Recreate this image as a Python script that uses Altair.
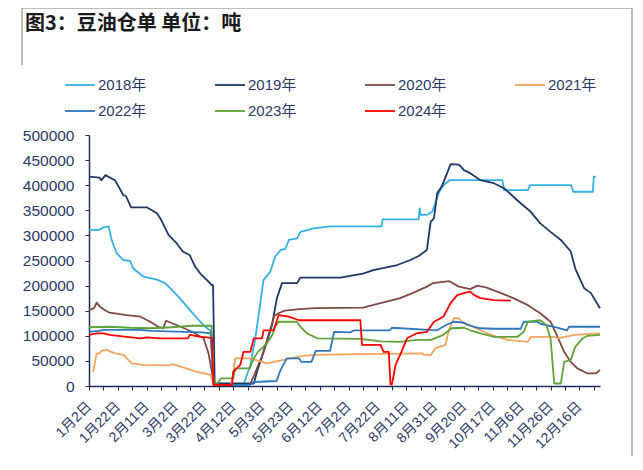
import json
import altair as alt
import pandas as pd

years = ["2018年", "2019年", "2020年", "2021年", "2022年", "2023年", "2024年"]
colors = ["#35b0e8", "#1f3868", "#7f4b43", "#f4a45c", "#2e78bd", "#5fa33a", "#ff0000"]
widths = [1.8, 1.8, 1.8, 1.8, 1.8, 1.8, 3.4]

x_labels = ["1月2日", "1月22日", "2月11日", "3月2日", "3月22日", "4月12日", "5月3日",
            "5月23日", "6月12日", "7月2日", "7月22日", "8月11日", "8月31日", "9月20日",
            "10月17日", "11月6日", "11月26日", "12月16日"]

t_2018 = [0, 5, 7, 9.5, 11, 13.5, 16.7, 20, 21.5, 26.4, 33, 37, 39.4, 44, 49, 54, 56.4, 59, 60.5, 62,
          75, 78.3, 80.7, 83, 84.7, 88, 90.4, 93, 95.3, 97, 101, 102.6, 109, 117, 142, 142.5, 160, 160.5,
          161, 164, 166.6, 170, 172, 175, 200.6, 201.5, 213, 214, 234, 235, 244.5, 245, 246]
v_2018 = [311000, 311000, 316000, 318000, 291000, 264000, 251000, 249000, 234000, 218000, 212000,
          205000, 195000, 175000, 151000, 128000, 118000, 110000, 5000, 2000, 2000, 42000, 95000,
          161000, 211000, 228000, 258000, 271000, 273000, 291000, 294000, 307000, 314000, 318000,
          318000, 332000, 332000, 354000, 341000, 341000, 347000, 387000, 400000, 410000, 410000,
          390000, 390000, 400000, 400000, 387000, 387000, 417000, 417000]

t_2019 = [0, 5, 6, 8, 12.6, 16.7, 18, 20.4, 28, 33, 35, 38.6, 42.6, 45.5, 48.8, 51.5, 54, 58, 59.6, 60.2,
          61, 80, 81.5, 86.4, 88.8, 91.2, 93.7, 101, 102.6, 122, 133, 138, 149.6, 156, 160, 164, 165.8,
          167.4, 169, 171.5, 175.5, 179.5, 182, 185, 190, 196.5, 201.4, 206, 209.5, 214.4, 219, 224,
          229, 233.8, 236, 240.3, 243.6, 248]
v_2019 = [417000, 415000, 410000, 420000, 410000, 380000, 378000, 356000, 356000, 344000, 331000,
          301000, 284000, 268000, 261000, 238000, 224000, 208000, 201000, 201000, 5000, 5000, 28000,
          88000, 121000, 175000, 205000, 205000, 216000, 216000, 224000, 231000, 241000, 251000,
          259000, 271000, 327000, 334000, 384000, 400000, 442000, 441000, 430000, 424000, 410000,
          404000, 394000, 377000, 364000, 347000, 324000, 307000, 291000, 268000, 234000, 195000,
          185000, 155000]

t_2020 = [0, 2.5, 3.7, 5.3, 7.8, 10, 18.3, 25, 29.7, 33.7, 36, 37.4, 41, 45, 50, 55.6, 58, 60.4, 61.5,
          78, 80, 84, 87, 90, 92, 95, 102, 110, 133, 141.5, 151, 157, 164, 167, 174.7, 179.5, 185,
          188.5, 193, 200, 206, 213, 219, 224, 227, 230.6, 233.8, 237, 242, 246, 248]
v_2020 = [151000, 155000, 166000, 158000, 151000, 146000, 141000, 138000, 128000, 118000, 115000,
          130000, 124000, 117000, 108000, 95000, 65000, 12000, 2000, 2000, 20000, 60000, 100000,
          140000, 145000, 150000, 153000, 155000, 156000, 165000, 175000, 185000, 198000, 205000,
          209000, 198000, 193000, 200000, 196000, 185000, 175000, 161000, 145000, 128000, 102000,
          68000, 48000, 35000, 25000, 25000, 32000]

t_2021 = [2, 3.7, 5.3, 6, 8.6, 12.6, 16.7, 20.7, 26.4, 37.8, 41, 45, 52.4, 59, 60.5, 62, 69, 71, 78,
          80, 86.4, 97.7, 104, 110, 122, 162, 162.5, 166, 168, 173, 174.7, 177, 179.5, 181, 183.6,
          185, 190, 195, 203, 213, 214.4, 225.8, 227.4, 235.5, 248]
v_2021 = [28000, 65000, 65000, 70000, 72000, 65000, 62000, 45000, 42000, 41000, 43000, 38000,
          28000, 22000, 3000, 2000, 2000, 55000, 55000, 53000, 45000, 55000, 60000, 62000, 63000,
          65000, 62000, 62000, 75000, 82000, 112000, 135000, 135000, 128000, 121000, 121000,
          111000, 102000, 92000, 88000, 98000, 98000, 95000, 102000, 105000]

t_2022 = [0, 5, 7, 25, 30, 55, 59, 60.5, 78, 80, 91, 93, 96, 102, 103, 108, 110, 117, 119, 127,
          128.5, 146, 147, 169, 173, 177, 182, 185, 190, 196.6, 209.5, 211, 217.6, 219, 225.8, 232,
          233, 248]
v_2022 = [108000, 110000, 112000, 112000, 110000, 107000, 105000, 2000, 2000, 8000, 10000, 32000,
          55000, 55000, 48000, 48000, 70000, 70000, 108000, 107000, 111000, 111000, 116000, 111000,
          121000, 128000, 126000, 120000, 115000, 114000, 114000, 128000, 128000, 124000, 118000,
          111000, 118000, 118000]

t_2023 = [0, 10, 20, 30, 40, 50, 59.5, 60.5, 62, 64, 70, 71, 78, 80, 82, 86.4, 89, 90.4, 92, 101,
          102.6, 105.8, 110.7, 131.7, 141.5, 151, 159, 166, 172, 176, 182, 185, 190, 196.6, 208, 211,
          213, 219, 222, 224, 225.8, 229, 230.6, 233.8, 236, 239.5, 242, 248]
v_2023 = [117000, 118000, 116000, 115000, 117000, 120000, 120000, 3000, 3000, 15000, 15000, 35000,
          35000, 55000, 68000, 85000, 102000, 118000, 128000, 128000, 118000, 105000, 95000, 94000,
          89000, 88000, 92000, 92000, 102000, 115000, 116000, 111000, 105000, 98000, 98000, 108000,
          128000, 131000, 121000, 95000, 5000, 5000, 48000, 52000, 78000, 95000, 100000, 102000]

t_2024 = [0, 3.7, 7, 10, 18.3, 25, 28, 34.5, 48, 49, 54, 59.6, 60.4, 69.4, 70, 73.4, 75, 78.3, 80,
          84, 84.7, 89.6, 92, 97, 102, 131.7, 132.5, 141.5, 143, 145.5, 146.3, 147, 148.8, 151,
          154.4, 159, 164, 167.4, 172, 175.5, 178.7, 182, 185, 187, 190, 196.6, 204.7]
v_2024 = [102000, 105000, 105000, 102000, 98000, 95000, 97000, 95000, 95000, 102000, 98000, 96000,
          2000, 2000, 28000, 42000, 68000, 68000, 95000, 95000, 111000, 111000, 141000, 138000,
          131000, 131000, 82000, 82000, 68000, 68000, 3000, 3000, 42000, 62000, 95000, 105000,
          108000, 128000, 138000, 165000, 181000, 185000, 188000, 181000, 175000, 171000, 170000]

series = [(t_2018, v_2018), (t_2019, v_2019), (t_2020, v_2020), (t_2021, v_2021),
          (t_2022, v_2022), (t_2023, v_2023), (t_2024, v_2024)]

rows = []
for year, (ts, vs) in zip(years, series):
    assert len(ts) == len(vs), year
    for i, (t, v) in enumerate(zip(ts, vs)):
        rows.append({"year": year, "t": t, "v": v, "i": i})
df = pd.DataFrame(rows)

NAVY = "#1f2d5a"
LABEL = "#2b3a67"
FONT = "Liberation Sans, Noto Sans CJK SC"

label_expr = ("datum.value % 14 == 0 ? " + json.dumps(x_labels, ensure_ascii=False)
              + "[datum.value / 14] : ''")

legend = alt.Legend(
    title=None, orient="none", legendX=-25, legendY=-66, direction="horizontal",
    columns=4, gridAlign="all", symbolType="stroke", symbolSize=900, labelFont=FONT,
    labelFontSize=15, labelColor=LABEL, labelOffset=2, columnPadding=64, rowPadding=2,
    padding=0, labelLimit=200,
)

lines = alt.Chart(df).mark_line(strokeJoin="round").encode(
    x=alt.X("t:Q", scale=alt.Scale(domain=[0, 248], nice=False, zero=False),
            axis=alt.Axis(title=None, values=list(range(0, 246, 7)), labelExpr=label_expr,
                          labelAngle=-45, labelAlign="right", labelBaseline="middle",
                          labelFont=FONT, labelFontSize=14, labelColor=LABEL,
                          labelPadding=14, tickSize=4, tickColor=NAVY, domainColor=NAVY,
                          domainWidth=1.5, grid=False, labelOverlap=False, labelBound=False)),
    y=alt.Y("v:Q", scale=alt.Scale(domain=[0, 500000], nice=False),
            axis=alt.Axis(title=None, values=list(range(0, 500001, 50000)), format="d",
                          labelFont=FONT, labelFontSize=15.5, labelColor=LABEL, labelPadding=11,
                          tickSize=4, tickColor=NAVY, domainColor=NAVY, domainWidth=1.5,
                          grid=False)),
    color=alt.Color("year:N", scale=alt.Scale(domain=years, range=colors), legend=legend),
    strokeWidth=alt.StrokeWidth("year:N", scale=alt.Scale(domain=years, range=widths),
                                legend=legend),
    order=alt.Order("i:Q"),
)

one = pd.DataFrame({"a": [0]})
frame_top = alt.Chart(one).mark_rule(color="#a6a6a6", strokeWidth=1.5).encode(
    x=alt.value(-67), x2=alt.value(543), y=alt.value(-127))
frame_left = alt.Chart(one).mark_rule(color="#a6a6a6", strokeWidth=1.5).encode(
    x=alt.value(-67), y=alt.value(-127), y2=alt.value(-70))
frame_right = alt.Chart(one).mark_rule(color="#a6a6a6", strokeWidth=1.5).encode(
    x=alt.value(543), y=alt.value(-127), y2=alt.value(330))
title = alt.Chart(one).mark_text(
    text="图3：豆油仓单 单位：吨", align="left", baseline="middle",
    font="Noto Sans CJK SC", fontSize=20, fontWeight="bold", color="#1a1a1a",
).encode(x=alt.value(-64), y=alt.value(-111))

chart = alt.layer(frame_top, frame_left, frame_right, title, lines).properties(
    width=511, height=251, autosize="none",
    padding={"left": 81, "top": 127, "right": 34, "bottom": 70},
).configure_view(stroke=None)

chart.save("out.html", embed_options={"renderer": "svg", "actions": False})
